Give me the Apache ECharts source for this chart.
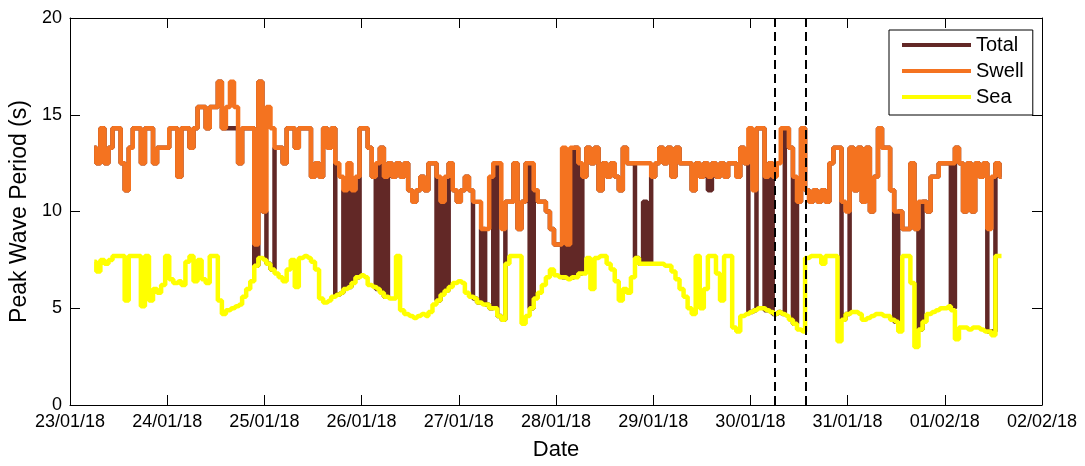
<!DOCTYPE html>
<html><head><meta charset="utf-8">
<script src="https://cdn.jsdelivr.net/npm/echarts@6/dist/echarts.min.js"></script>
<style>html,body{margin:0;padding:0;background:#fff}#c{width:1085px;height:466px}</style>
</head><body><div id="c"></div>
<script>
// x tick labels (one per day, starting 23/01/18 00:00)
const tickLabels = ['23/01/18','24/01/18','25/01/18','26/01/18','27/01/18','28/01/18','29/01/18','30/01/18','31/01/18','01/02/18','02/02/18'];
// hourly samples starting 23/01/18 06:00
const startHour = 6;
const stepHours = 1;
const swell = [
13.3,12.5,14.3,12.5,13.3,14.3,14.3,12.5,11.1,13.3,14.3,14.3,
12.5,14.3,14.3,12.5,13.3,13.3,13.3,14.3,14.3,11.8,14.3,14.3,
13.3,14.3,15.4,15.4,14.3,15.4,15.4,16.7,14.3,15.4,16.7,15.4,
12.5,14.3,14.3,14.3,8.3,16.7,10.0,15.4,14.3,13.3,13.3,12.5,
14.3,14.3,13.3,14.3,14.3,14.3,11.8,12.5,11.8,14.3,13.3,14.3,
12.5,11.8,11.1,12.5,11.1,11.8,14.3,14.3,13.3,11.8,12.5,13.3,
11.8,12.5,11.8,12.5,11.8,12.5,11.1,10.5,11.1,11.8,11.1,12.5,
12.5,11.8,10.5,11.8,12.5,11.1,10.5,11.1,11.8,11.1,10.5,10.5,
9.1,9.1,11.8,12.5,12.5,9.1,10.5,10.5,12.5,9.1,10.5,12.5,
12.5,11.1,10.5,10.5,10.0,9.1,8.3,8.3,13.3,8.3,13.3,13.3,
12.5,11.8,13.3,12.5,13.3,11.1,12.5,11.8,12.5,11.8,11.1,13.3,
12.5,12.5,12.5,12.5,12.5,12.5,11.8,12.5,13.3,12.5,13.3,11.8,
13.3,12.5,12.5,12.5,11.1,12.5,11.8,12.5,11.8,12.5,11.8,12.5,
11.8,12.5,12.5,11.8,13.3,12.5,14.3,11.1,14.3,14.3,11.8,12.5,
11.8,12.5,14.3,14.3,13.3,11.8,10.5,14.3,11.1,10.5,11.1,10.5,
11.1,10.5,12.5,13.3,13.3,10.5,10.0,13.3,11.1,13.3,10.5,13.3,
10.0,11.8,14.3,13.3,13.3,11.1,10.0,10.0,9.1,9.1,12.5,9.1,
10.5,10.5,10.0,11.8,11.8,12.5,12.5,12.5,12.5,13.3,12.5,10.0,
12.5,10.0,12.5,11.8,12.5,9.1,11.8,12.5,11.8
];
const sea = [
7.4,6.9,7.5,7.3,7.5,7.7,7.7,7.7,5.4,7.7,7.7,7.7,
5.1,7.7,5.4,6.0,5.8,6.2,7.7,6.5,6.3,6.4,6.2,7.4,
7.7,6.4,7.5,6.5,6.3,7.7,7.7,5.4,4.7,4.9,5.0,5.1,
5.2,5.6,6.0,6.4,7.2,7.6,7.5,7.3,7.0,6.8,6.6,6.4,
7.0,7.5,6.1,7.6,7.7,7.6,7.4,7.0,5.5,5.3,5.4,5.6,
5.7,5.8,6.0,6.1,6.3,6.6,6.7,6.6,6.2,6.1,6.0,5.8,
5.6,5.5,5.5,7.7,4.9,4.7,4.6,4.5,4.6,4.7,4.6,4.8,
5.2,5.4,5.7,5.9,6.1,6.3,6.4,6.3,5.8,5.6,5.5,5.3,
5.2,5.2,5.0,5.0,4.6,4.4,7.3,7.7,7.7,7.7,4.2,4.6,
5.0,5.5,5.8,6.2,6.6,7.0,6.7,6.6,6.6,6.5,6.6,6.6,
6.8,6.8,7.6,6.0,7.6,7.7,7.7,7.3,7.0,6.4,5.4,6.0,
5.8,6.6,7.6,7.3,7.3,7.3,7.3,7.3,7.3,7.2,7.2,6.9,
6.5,6.0,5.6,5.0,4.7,7.7,5.0,6.0,7.7,7.7,6.8,5.4,
7.7,7.7,4.0,3.8,4.6,4.7,4.8,4.9,5.0,5.0,4.9,4.8,
4.7,4.8,4.7,4.6,4.4,4.2,3.9,3.8,7.6,7.7,7.7,7.7,
7.3,7.7,7.7,7.7,3.3,4.4,4.7,4.8,4.8,4.7,4.4,4.5,
4.6,4.7,4.7,4.6,4.6,4.4,4.3,3.8,7.7,7.7,6.3,3.0,
3.9,4.3,4.7,4.8,4.9,5.0,5.0,5.1,4.9,3.4,4.0,4.0,
3.9,4.0,4.0,3.9,3.8,3.8,3.6,7.7,7.7
];
const total = [
13.3,12.5,14.3,12.5,13.3,14.3,14.3,12.5,11.1,13.3,14.3,14.3,
12.5,14.3,14.3,12.5,13.3,13.3,13.3,14.3,14.3,11.8,14.3,14.3,
13.3,14.3,15.4,15.4,14.3,15.4,15.4,16.7,14.3,14.3,14.3,14.3,
12.5,14.3,14.3,14.3,7.2,16.7,10.0,7.3,7.0,13.3,13.3,12.5,
14.3,14.3,13.3,14.3,14.3,14.3,11.8,12.5,11.8,14.3,13.3,14.3,
5.7,5.8,11.1,6.1,11.1,6.6,14.3,14.3,13.3,11.8,6.0,13.3,
5.6,12.5,11.8,12.5,11.8,12.5,11.1,10.5,11.1,11.8,11.1,12.5,
12.5,5.4,10.5,5.9,12.5,11.1,10.5,11.1,11.8,11.1,5.5,5.3,
9.1,5.2,5.0,12.5,4.6,4.4,10.5,10.5,12.5,9.1,10.5,12.5,
5.0,11.1,10.5,10.5,10.0,9.1,8.3,8.3,6.6,8.3,6.6,13.3,
6.8,11.8,13.3,12.5,13.3,11.1,12.5,11.8,12.5,11.8,11.1,13.3,
12.5,12.5,7.6,7.3,10.5,7.3,11.8,12.5,13.3,12.5,13.3,11.8,
13.3,12.5,12.5,12.5,11.1,12.5,11.8,12.5,11.1,12.5,11.8,12.5,
11.8,12.5,12.5,11.8,13.3,12.5,4.8,4.9,14.3,14.3,4.9,12.5,
4.7,4.8,4.7,14.3,13.3,4.2,10.5,14.3,11.1,10.5,11.1,10.5,
11.1,10.5,12.5,13.3,13.3,4.4,4.7,13.3,11.1,13.3,10.5,13.3,
10.0,11.8,14.3,13.3,13.3,11.1,4.3,10.0,9.1,9.1,12.5,9.1,
3.9,10.5,10.0,11.8,11.8,12.5,12.5,12.5,5.0,13.3,12.5,10.0,
12.5,10.0,12.5,11.8,12.5,3.8,3.8,12.5,11.8
];
// dashed marker times, in days since 23/01/18 00:00
const markerDays = [7.25, 7.57];

const FONT = "'Liberation Sans', Arial, sans-serif";
function pairs(vals) { return vals.map((v, i) => [(startHour + i * stepHours) / 24, v]); }

const axisLine = { show: true, onZero: false, lineStyle: { color: '#000', width: 1 } };
const axisTick = { show: true, inside: true, length: 10, lineStyle: { color: '#000', width: 1 } };
const LW = 4.5;

const chart = echarts.init(document.getElementById('c'), null, { renderer: 'canvas' });
chart.setOption({
  animation: false,
  backgroundColor: '#fff',
  grid: { left: 70, right: 43, top: 18, bottom: 58, containLabel: false },
  legend: {
    data: ['Total', 'Swell', 'Sea'],
    orient: 'vertical', left: 889, top: 30,
    icon: 'rect', itemWidth: 69, itemHeight: 4, itemGap: 6,
    padding: [5, 9, 8, 13],
    borderColor: '#000', borderWidth: 1, backgroundColor: '#fff', borderRadius: 0,
    textStyle: { fontSize: 20, color: '#000', lineHeight: 20, fontFamily: FONT }
  },
  xAxis: [
    { type: 'value', position: 'bottom', min: 0, max: 10, interval: 1,
      axisLine, axisTick, splitLine: { show: false },
      axisLabel: { formatter: v => tickLabels[Math.round(v)], color: '#000', fontSize: 18, margin: 8, fontFamily: FONT },
      name: 'Date', nameLocation: 'middle', nameGap: 34,
      nameTextStyle: { fontSize: 22, color: '#000', fontFamily: FONT } },
    { type: 'value', position: 'top', min: 0, max: 10, interval: 1,
      axisLine, axisTick, splitLine: { show: false }, axisLabel: { show: false } }
  ],
  yAxis: [
    { type: 'value', position: 'left', min: 0, max: 20, interval: 5,
      axisLine, axisTick, splitLine: { show: false },
      axisLabel: { color: '#000', fontSize: 18, margin: 8, fontFamily: FONT },
      name: 'Peak Wave Period (s)', nameLocation: 'middle', nameGap: 39,
      nameTextStyle: { fontSize: 23, color: '#000', fontFamily: FONT } },
    { type: 'value', position: 'right', min: 0, max: 20, interval: 5,
      axisLine, axisTick, splitLine: { show: false }, axisLabel: { show: false } }
  ],
  series: [
    { name: 'Total', type: 'line', step: 'middle', data: pairs(total), symbol: 'none', showSymbol: false,
      lineStyle: { color: '#622826', width: LW }, itemStyle: { color: '#622826' } },
    { name: 'Swell', type: 'line', step: 'middle', data: pairs(swell), symbol: 'none', showSymbol: false,
      lineStyle: { color: '#F47320', width: LW }, itemStyle: { color: '#F47320' } },
    { name: 'Sea', type: 'line', step: 'middle', data: pairs(sea), symbol: 'none', showSymbol: false,
      lineStyle: { color: '#FFFF00', width: LW }, itemStyle: { color: '#FFFF00' },
      markLine: { silent: true, symbol: 'none', label: { show: false },
        lineStyle: { color: '#000', type: [9, 5], width: 2 },
        data: markerDays.map(d => ({ xAxis: d })) } }
  ]
});
</script></body></html>
